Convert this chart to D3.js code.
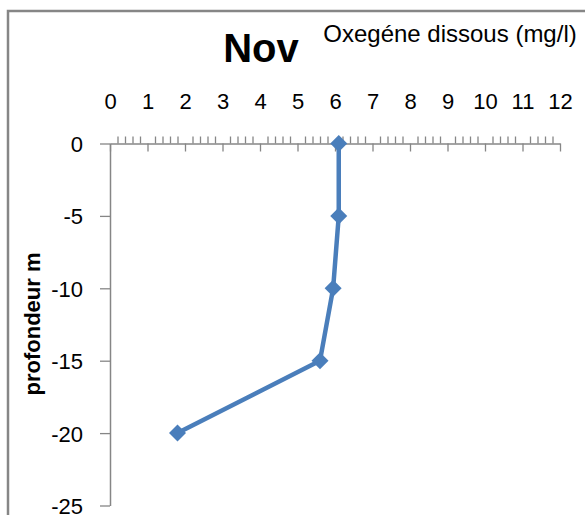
<!DOCTYPE html>
<html>
<head>
<meta charset="utf-8">
<script src="https://cdn.jsdelivr.net/npm/d3@7"></script>
<style>
  html, body { margin: 0; padding: 0; background: #fff; }
  svg { display: block; }
  text { font-family: "Liberation Sans", Arial, sans-serif; fill: #000; }
</style>
</head>
<body>
<svg id="chart" width="585" height="515"></svg>
<script>
// Dissolved oxygen profile, November
const depths = [0, -5, -10, -15, -20];
const oxygen = [6.1, 6.1, 5.95, 5.6, 1.8];
const xTicks = [0, 1, 2, 3, 4, 5, 6, 7, 8, 9, 10, 11, 12];
const yTicks = [0, -5, -10, -15, -20, -25];
const title = "Nov";
const xTitle = "Oxegéne dissous (mg/l)";
const yTitle = "profondeur m";

const svg = d3.select("#chart");
const axisColor = "#868686";
const seriesColor = "#4a7ebb";
const fmt = d => String(d);  // plain hyphen-minus for negatives

// chart frame
svg.append("rect")
  .attr("x", 8).attr("y", 11)
  .attr("width", 600).attr("height", 600)
  .attr("fill", "none").attr("stroke", axisColor).attr("stroke-width", 2.5);

const x = d3.scaleLinear().domain([0, 12]).range([110, 560]);
const y = d3.scaleLinear().domain([0, -25]).range([143.5, 505.5]);

// minor ticks every 0.2 above the x axis
const minor = d3.range(0, 61).map(i => i / 5).filter(v => Math.abs(v - Math.round(v)) > 1e-9);
const gMinor = svg.append("g").attr("transform", `translate(0,${y(0)})`)
  .call(d3.axisTop(x).tickValues(minor).tickSize(7).tickFormat(""));
gMinor.select(".domain").remove();

// major ticks below the x axis, plus the axis line
const gMajor = svg.append("g").attr("transform", `translate(0,${y(0)})`)
  .call(d3.axisBottom(x).tickValues(xTicks).tickSizeInner(8).tickSizeOuter(0).tickFormat(""));

// x tick labels above
const gXLab = svg.append("g").attr("transform", `translate(0,${y(0)})`)
  .call(d3.axisTop(x).tickValues(xTicks).tickSize(0).tickPadding(35).tickFormat(fmt));
gXLab.select(".domain").remove();
gXLab.selectAll("line").remove();

// y axis
const gY = svg.append("g").attr("transform", `translate(${x(0)},0)`)
  .call(d3.axisLeft(y).tickValues(yTicks).tickSizeInner(10).tickSizeOuter(0).tickPadding(17).tickFormat(fmt));
gY.selectAll("text").attr("dy", "0.36em");

[gMinor, gMajor, gY].forEach(g => {
  g.selectAll("line").attr("stroke", axisColor).attr("stroke-width", 1.3);
  g.selectAll(".domain").attr("stroke", axisColor).attr("stroke-width", 1.5);
});
svg.selectAll(".tick text")
  .attr("fill", "#000")
  .style("font-family", '"Liberation Sans", Arial, sans-serif')
  .style("font-size", "22px");

// series line
const pts = depths.map((d, i) => ({ depth: d, o2: oxygen[i] }));
svg.append("path")
  .datum(pts)
  .attr("fill", "none")
  .attr("stroke", seriesColor)
  .attr("stroke-width", 4.5)
  .attr("stroke-linejoin", "round")
  .attr("d", d3.line().x(d => x(d.o2)).y(d => y(d.depth)));

// diamond markers
svg.append("g").selectAll("rect")
  .data(pts)
  .join("rect")
  .attr("x", -6).attr("y", -6).attr("width", 12).attr("height", 12)
  .attr("fill", seriesColor)
  .attr("transform", d => `translate(${x(d.o2)},${y(d.depth)}) rotate(45)`);

// titles
svg.append("text")
  .attr("x", 261).attr("y", 62)
  .attr("text-anchor", "middle")
  .style("font-size", "40px").style("font-weight", "bold")
  .text(title);

svg.append("text")
  .attr("x", 450).attr("y", 42)
  .attr("text-anchor", "middle")
  .style("font-size", "24px")
  .text(xTitle);

svg.append("text")
  .attr("transform", "translate(40,324) rotate(-90)")
  .attr("text-anchor", "middle")
  .style("font-size", "22px").style("font-weight", "bold")
  .text(yTitle);
</script>
</body>
</html>
